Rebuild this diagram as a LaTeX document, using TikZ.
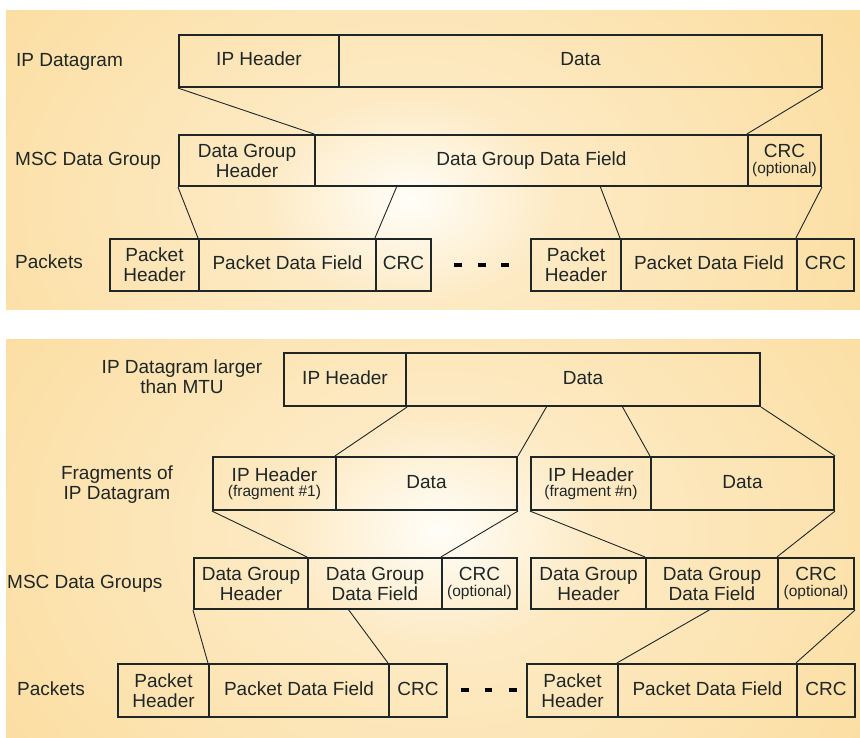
\documentclass[tikz,border=0pt]{standalone}
\usepackage{fontspec}
\setmainfont{Liberation Sans}
\usetikzlibrary{calc}

\definecolor{bgout}{RGB}{250,215,143}
\definecolor{bgmid}{RGB}{253,234,196}
\definecolor{bgin}{RGB}{255,254,249}
\definecolor{ink}{RGB}{30,38,38}

% warm glow used behind each panel
\pgfdeclareradialshading{glow}{\pgfpoint{0bp}{0bp}}{%
  color(0bp)=(bgin); color(5bp)=(bgmid); color(23bp)=(bgout); color(50bp)=(bgout)}

\newcommand\subnote[1]{{\fontsize{15.5}{15.5}\selectfont #1}}
% gives one-line labels the same depth as lines with descenders
\newcommand\tail{\vphantom{p}}

% \fieldbox{name}{x1}{y1}{x2}{y2}{text}: one framed field of a frame layout
\newcommand\fieldbox[6]{%
  \pgfmathsetmacro\fbw{#4-#2}\pgfmathsetmacro\fbh{#5-#3}%
  \node[fld, minimum width=\fbw pt, minimum height=\fbh pt] (#1)
    at ({(#2+#4)/2},{(#3+#5)/2}) {#6};}

\begin{document}
\begin{tikzpicture}[x=1pt,y=-1pt,
  fld/.style={draw=ink, line width=2.1pt, inner sep=0pt, align=center,
    text=ink, font=\fontsize{19}{20}\selectfont},
  rowlbl/.style={inner sep=0pt, align=center, text=ink,
    font=\fontsize{19}{20}\selectfont},
  link/.style={draw=ink, line width=0.9pt},
  gapmark/.style={fill=black}]

\useasboundingbox (0,0) rectangle (860,738);
\fill[white] (0,0) rectangle (860,738);

% ---------- panel backgrounds ----------
\begin{scope}
  \clip (6,11) rectangle (860,310);
  \shade[shading=glow] (410,200) ellipse (740pt and 520pt);
\end{scope}
\begin{scope}
  \clip (6,339) rectangle (860,738);
  \shade[shading=glow] (440,530) ellipse (780pt and 580pt);
\end{scope}

% ---------- upper panel ----------
\node[rowlbl, anchor=base west] (lblDgram) at (16,66.5) {IP Datagram};
\node[rowlbl, anchor=base west] (lblGroup) at (15,166) {MSC Data Group};
\node[rowlbl, anchor=base west] (lblPackets) at (15,268.7) {Packets};

\fieldbox{aHdr}{179}{35}{339}{87}{IP Header\tail}
\fieldbox{aData}{339}{35}{822}{87}{Data\tail}

\fieldbox{bHdr}{179}{135}{315}{186}{Data Group\\Header}
\fieldbox{bFld}{315}{135}{748}{186}{Data Group Data Field}
\fieldbox{bCrc}{748}{135}{821}{186}{CRC\\[-4.5pt]\subnote{(optional)}}

\fieldbox{cHdrA}{110}{239}{199}{291}{Packet\\Header}
\fieldbox{cFldA}{199}{239}{376}{291}{Packet Data Field\tail}
\fieldbox{cCrcA}{376}{239}{431}{291}{CRC\tail}
\fieldbox{cHdrB}{531}{239}{621}{291}{Packet\\Header}
\fieldbox{cFldB}{621}{239}{797}{291}{Packet Data Field\tail}
\fieldbox{cCrcB}{797}{239}{854}{291}{CRC\tail}

\coordinate (bCutA) at (397,186);
\coordinate (bCutB) at (600,186);

\draw[link] (aHdr.south west) -- (bFld.north west);
\draw[link] (aData.south east) -- (bCrc.north west);
\draw[link] (bHdr.south west) -- (cFldA.north west);
\draw[link] (bCutA) -- (cCrcA.north west);
\draw[link] (bCutB) -- (cFldB.north west);
\draw[link] (bCrc.south east) -- (cCrcB.north west);

\fill[gapmark] (454,263) rectangle (462,267);
\fill[gapmark] (478,263) rectangle (486,267);
\fill[gapmark] (501,263) rectangle (509,267);

% ---------- lower panel ----------
\node[rowlbl] (lblLarge) at (182,377) {IP Datagram larger\\than MTU};
\node[rowlbl] (lblFrags) at (117,484.5) {Fragments of\\IP Datagram};
\node[rowlbl, anchor=base west] (lblGroups) at (7,588.7) {MSC Data Groups};
\node[rowlbl, anchor=base west] (lblPackets2) at (17,695) {Packets};

\fieldbox{dHdr}{284}{353}{406}{406}{IP Header\tail}
\fieldbox{dData}{406}{353}{760}{406}{Data\tail}

\fieldbox{eHdrA}{213}{457}{336}{510}{IP Header\\[-4.5pt]\subnote{(fragment \#1)}}
\fieldbox{eDataA}{336}{457}{517}{510}{Data\tail}
\fieldbox{eHdrB}{531}{457}{651}{510}{IP Header\\[-4.5pt]\subnote{(fragment \#n)}}
\fieldbox{eDataB}{651}{457}{834}{510}{Data\tail}

\fieldbox{fHdrA}{194}{558}{308}{609}{Data Group\\Header}
\fieldbox{fFldA}{308}{558}{442}{609}{Data Group\\Data Field}
\fieldbox{fCrcA}{442}{558}{517}{609}{CRC\\[-4.5pt]\subnote{(optional)}}
\fieldbox{fHdrB}{531}{558}{646}{609}{Data Group\\Header}
\fieldbox{fFldB}{646}{558}{778}{609}{Data Group\\Data Field}
\fieldbox{fCrcB}{778}{558}{854}{609}{CRC\\[-4.5pt]\subnote{(optional)}}

\fieldbox{gHdrA}{118}{664}{209}{717}{Packet\\Header}
\fieldbox{gFldA}{209}{664}{389}{717}{Packet Data Field\tail}
\fieldbox{gCrcA}{389}{664}{447}{717}{CRC\tail}
\fieldbox{gHdrB}{527}{664}{618}{717}{Packet\\Header}
\fieldbox{gFldB}{618}{664}{797}{717}{Packet Data Field\tail}
\fieldbox{gCrcB}{797}{664}{855}{717}{CRC\tail}

\coordinate (dCutA) at (547,406);
\coordinate (dCutB) at (622,406);
\coordinate (fCutA) at (348,609);
\coordinate (fCutB) at (711,609);

\draw[link] (dHdr.south east) -- (eDataA.north west);
\draw[link] (dCutA) -- (eDataA.north east);
\draw[link] (dCutB) -- (eDataB.north west);
\draw[link] (dData.south east) -- (eDataB.north east);

\draw[link] (eHdrA.south west) -- (fFldA.north west);
\draw[link] (eDataA.south east) -- (fCrcA.north west);
\draw[link] (eHdrB.south west) -- (fFldB.north west);
\draw[link] (eDataB.south east) -- (fCrcB.north west);

\draw[link] (fHdrA.south west) -- (gFldA.north west);
\draw[link] (fCutA) -- (gCrcA.north west);
\draw[link] (fCutB) -- (gFldB.north west);
\draw[link] (fCrcB.south east) -- (gCrcB.north west);

\fill[gapmark] (461,688) rectangle (469,692);
\fill[gapmark] (485,688) rectangle (492,692);
\fill[gapmark] (509,688) rectangle (517,692);
\end{tikzpicture}
\end{document}
